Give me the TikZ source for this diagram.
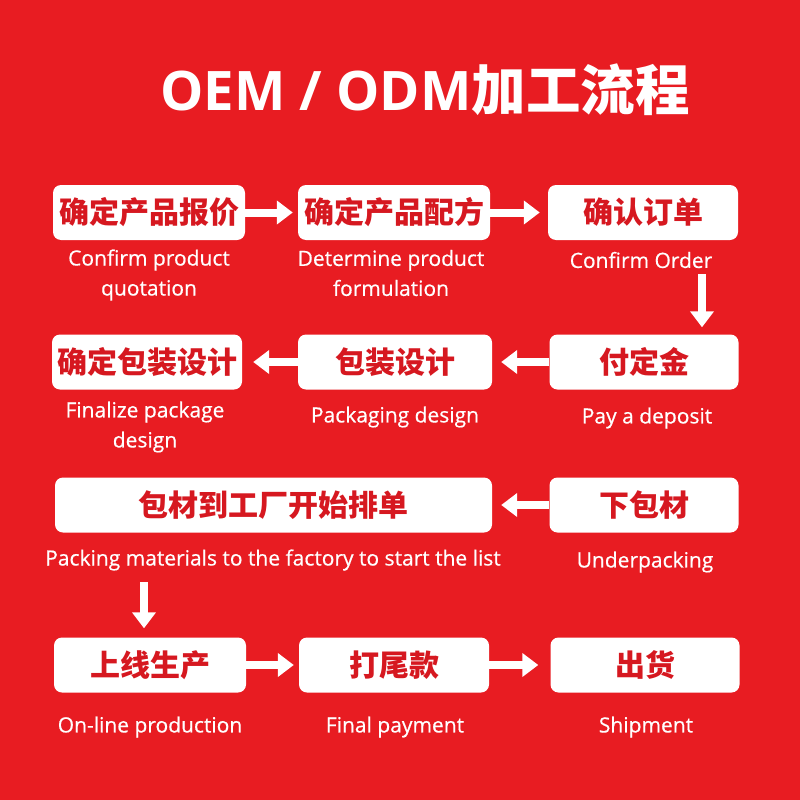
\documentclass[tikz,border=0pt]{standalone}
\usepackage{fontspec}
\setmainfont{Open Sans}
\newfontfamily\lblfont{Open Sans}[FakeBold=0.5]
\newfontfamily\cjk{Noto Sans CJK SC}
\usetikzlibrary{arrows.meta,calc}
\definecolor{bgred}{RGB}{232,28,34}
\definecolor{txtred}{RGB}{214,24,32}
\tikzset{
  box/.style={draw=none, fill=white, rounded corners=8pt, minimum height=55pt, inner sep=0pt,
    font=\cjk\bfseries\fontsize{30}{34}\selectfont, text=txtred},
  lbl/.style={text=white, inner sep=0pt, align=center, font=\lblfont\fontsize{21}{30}\selectfont},
  conn/.style={white, line width=8pt, -{Triangle[width=23pt,length=16pt]}},
}
\begin{document}
\begin{tikzpicture}[x=1pt,y=-1pt]
\fill[bgred] (0,0) rectangle (800,800);
\useasboundingbox (0,0) rectangle (800,800);

\node[text=white, inner sep=0pt] (title) at (425,90)
  {\fontsize{54.5}{60}\selectfont\bfseries OEM / ODM\cjk\bfseries 加工流程};

% boxes
\node[box, minimum width=192pt] (b1) at (149,212.5) {确定产品报价};
\node[box, minimum width=192pt] (b2) at (394,212.5) {确定产品配方};
\node[box, minimum width=190pt] (b3) at (643,212.5) {确认订单};
\node[box, minimum width=190pt] (b4) at (147,362) {确定包装设计};
\node[box, minimum width=194pt] (b5) at (395,362) {包装设计};
\node[box, minimum width=189pt] (b6) at (644,362) {付定金};
\node[box, minimum width=437pt] (b7) at (273.5,505) {包材到工厂开始排单};
\node[box, minimum width=189pt] (b8) at (644,505) {下包材};
\node[box, minimum width=192pt] (b9) at (150,665) {上线生产};
\node[box, minimum width=190pt] (b10) at (394,665) {打尾款};
\node[box, minimum width=189pt] (b11) at (645,665) {出货};

% labels
\node[lbl] (l1) at (149,275) {Confirm product\\quotation};
\node[lbl] (l2) at (391,273) {Determine product\\formulation};
\node[lbl] (l3) at (641,260) {Confirm Order};
\node[lbl] (l4) at (145,427) {Finalize package\\design};
\node[lbl] (l5) at (395,417) {Packaging design};
\node[lbl] (l6) at (647,418) {Pay a deposit};
\node[lbl] (l7) at (273,560) {Packing materials to the factory to start the list};
\node[lbl] (l8) at (645,562) {Underpacking};
\node[lbl] (l9) at (150,727) {On-line production};
\node[lbl] (l10) at (395,727) {Final payment};
\node[lbl] (l11) at (646,727) {Shipment};

% connectors
\draw[conn, shorten >=5pt] (b1.east) -- (b2.west);
\draw[conn, shorten >=8pt] (b2.east) -- (b3.west);
\coordinate (d1) at (702,274);
\draw[conn, shorten >=7pt] (d1) -- (d1 |- b6.north);
\draw[conn, shorten >=9pt] (b6.west) -- (b5.east);
\draw[conn, shorten >=11pt] (b5.west) -- (b4.east);
\draw[conn, shorten >=9pt] (b8.west) -- (b7.east);
\coordinate (d2) at (144,582);
\draw[conn, shorten >=9pt] (d2) -- (d2 |- b9.north);
\draw[conn, shorten >=5pt] (b9.east) -- (b10.west);
\draw[conn, shorten >=12pt] (b10.east) -- (b11.west);
\end{tikzpicture}
\end{document}
